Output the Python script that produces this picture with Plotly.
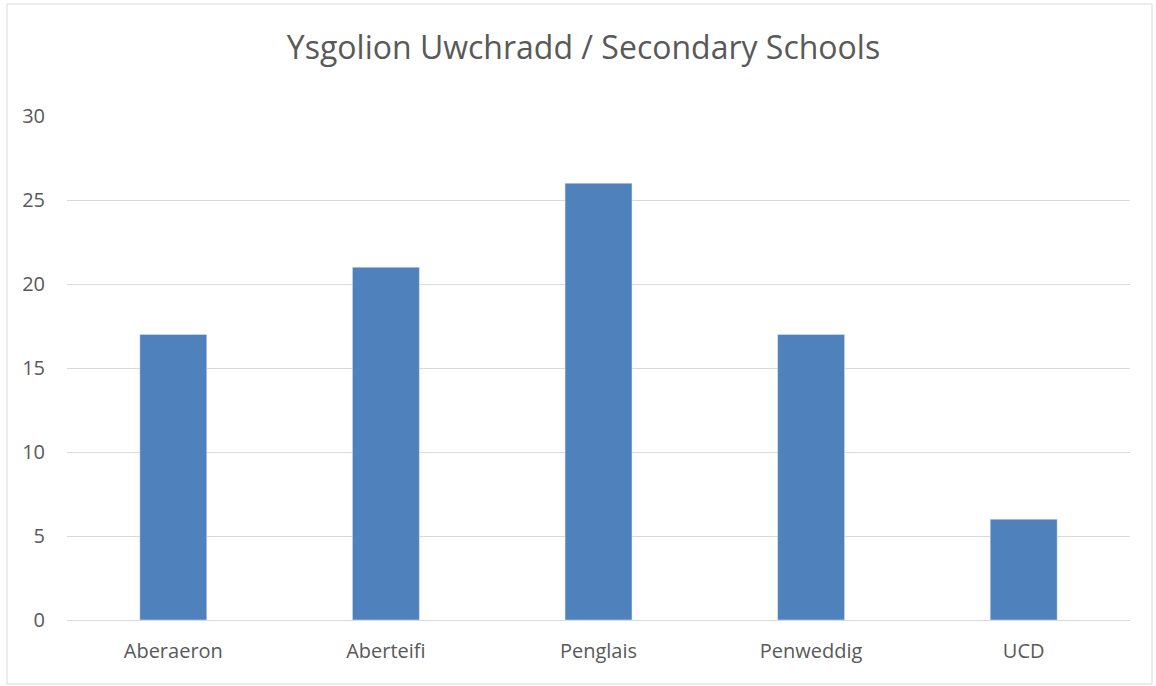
import plotly.graph_objects as go

categories = ["Aberaeron", "Aberteifi", "Penglais", "Penweddig", "UCD"]
values = [17, 21, 26, 17, 6]
y_ticks = [0, 5, 10, 15, 20, 25, 30]

W, H = 1156, 686
L, R, T, B = 67, 26, 116, 66
pw, ph = W - L - R, H - T - B

def px_x(p):
    return (p - L) / pw

def px_y(p):
    return (H - B - p) / ph

fig = go.Figure(go.Bar(x=categories, y=values, marker_color="#4f81bd", width=0.315))

fig.update_layout(
    width=W, height=H,
    margin=dict(l=L, r=R, t=T, b=B),
    paper_bgcolor="white", plot_bgcolor="white",
    font=dict(family="Open Sans", color="#595959", size=20),
    title=dict(text="Ysgolion Uwchradd / Secondary Schools", x=583.5 / W, xanchor="center",
               y=1 - 48 / H, yanchor="middle",
               font=dict(family="Open Sans", size=32, color="#595959")),
    showlegend=False,
)
fig.update_yaxes(range=[0, 30], tickvals=y_ticks, showgrid=True, gridcolor="#d9d9d9",
                 gridwidth=1, zeroline=True, zerolinecolor="#d9d9d9", zerolinewidth=1,
                 showline=False, ticks="", ticklabelstandoff=21, fixedrange=True)
fig.update_xaxes(showgrid=False, showline=False, ticks="", ticklabelstandoff=17, fixedrange=True)
fig.add_shape(type="rect", xref="paper", yref="paper",
              x0=px_x(7), x1=px_x(1152), y0=px_y(684), y1=px_y(4),
              line=dict(color="#d9d9d9", width=1), fillcolor="rgba(0,0,0,0)", layer="below")

fig.write_html("out.html", config={"displayModeBar": False},
               post_script="document.body.style.margin='0';document.body.style.padding='0';")
